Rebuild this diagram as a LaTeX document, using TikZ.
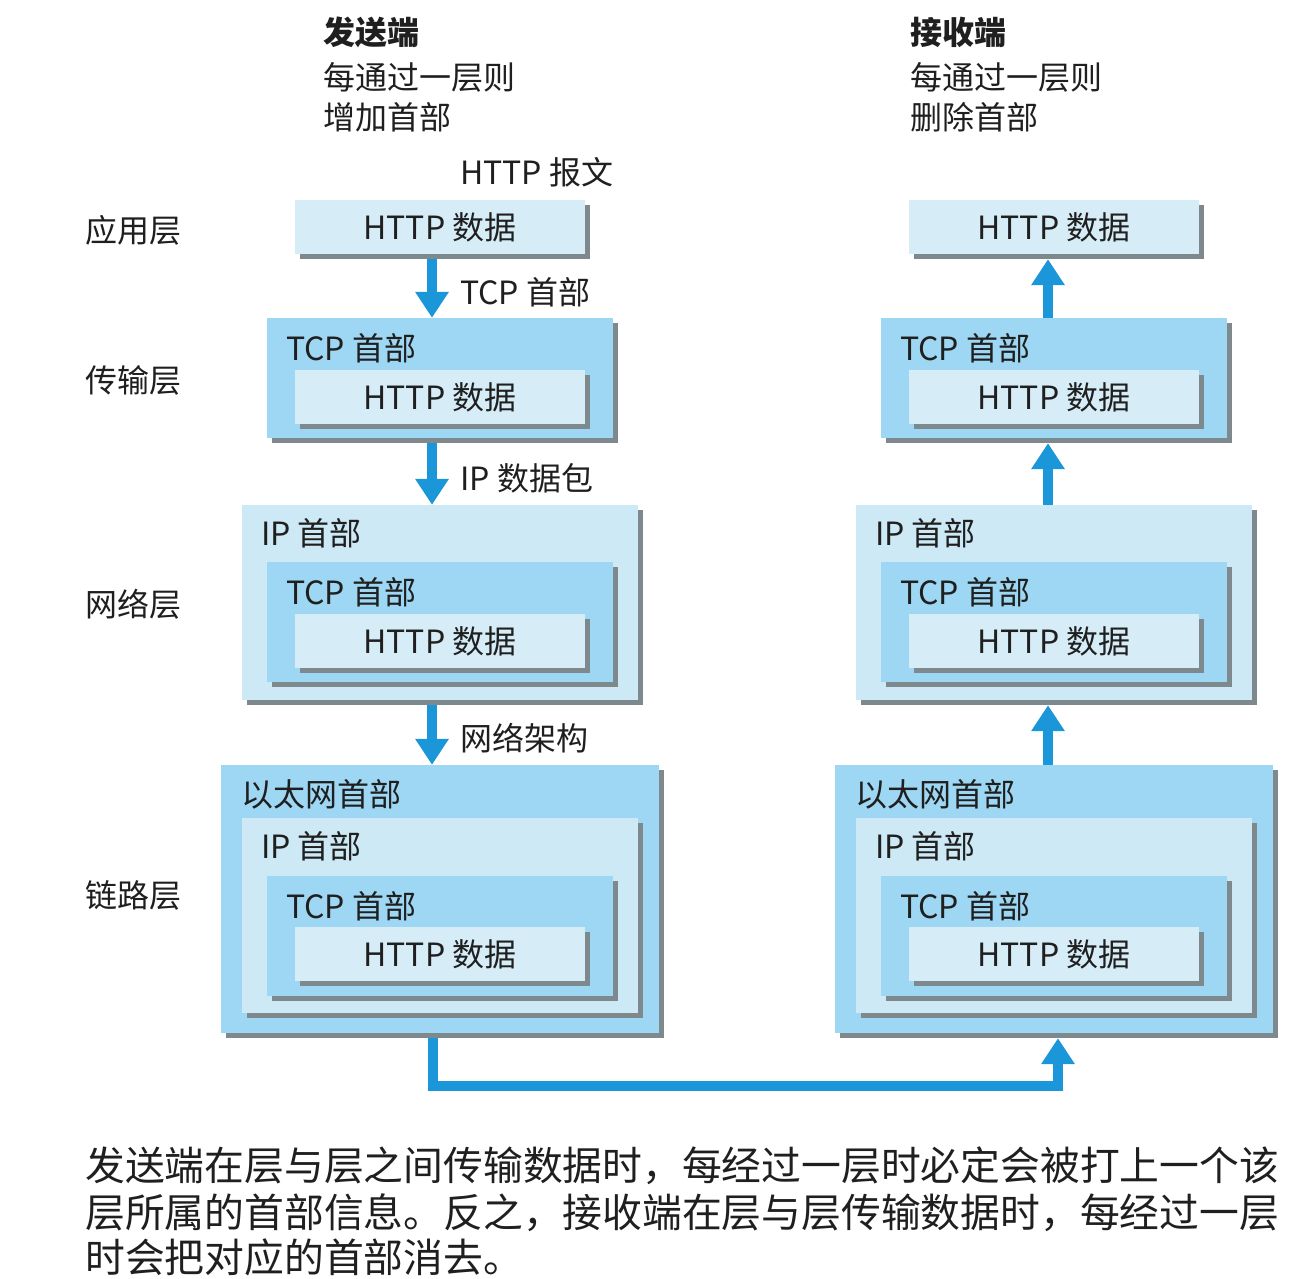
\documentclass[tikz,border=0pt]{standalone}
\usepackage{fontspec}
\setmainfont{Noto Sans CJK SC}
\usepackage{tikz}
\usetikzlibrary{arrows.meta,positioning,calc,shadows}

\definecolor{paleblue}{HTML}{D6EDF8}
\definecolor{ipblue}{HTML}{CDE9F6}
\definecolor{skyblue}{HTML}{9ED7F3}
\definecolor{shadowgray}{HTML}{7E898D}
\definecolor{flowblue}{HTML}{1A96D9}
\definecolor{inkgray}{HTML}{1F1F1F}

\begin{document}
\begin{tikzpicture}[
    x=1pt, y=-1pt,
    font=\fontsize{32pt}{38pt}\selectfont,
    text=inkgray,
    box/.style={
        rectangle,
        fill=#1,
        inner sep=0pt,
        drop shadow={shadow xshift=5pt, shadow yshift=-5pt, fill=shadowgray, opacity=1}
    },
    httpbox/.style={box=paleblue, minimum width=290pt, minimum height=54pt},
    tcpbox/.style={box=skyblue, minimum width=346pt, minimum height=120pt},
    ipbox/.style={box=ipblue, minimum width=396pt, minimum height=195pt},
    ethbox/.style={box=skyblue, minimum width=438pt, minimum height=268pt},
    head/.style={anchor=west, inner sep=0pt},
    note/.style={anchor=west, inner sep=0pt},
    flow/.style={draw=flowblue, line width=10pt, -{Triangle[width=32pt,length=26pt]}}
]

\fill[white] (0,0) rectangle (1315,1279);
\useasboundingbox (0,0) rectangle (1315,1279);

% Headings above both sides
\node[note, font=\fontsize{32pt}{38pt}\selectfont\bfseries] (sendtitle) at (323,32) {发送端};
\node[note] (sendline1) at (323,77) {每通过一层则};
\node[note] (sendline2) at (323,117) {增加首部};
\node[note, font=\fontsize{32pt}{38pt}\selectfont\bfseries] (recvtitle) at (910,32) {接收端};
\node[note] (recvline1) at (910,77) {每通过一层则};
\node[note] (recvline2) at (910,117) {删除首部};

% Layer names on the left
\node[note] (applayer)   at (85,230) {应用层};
\node[note] (translayer) at (85,380) {传输层};
\node[note] (netlayer)   at (85,604) {网络层};
\node[note] (linklayer)  at (85,895) {链路层};

% Sender side: boxes nested from outer to inner
\node[httpbox] (sendapp) at (440,227) {HTTP 数据};

\node[tcpbox]  (sendtcp)     at (440,378) {};
\node[httpbox] (sendtcphttp) at (440,397) {HTTP 数据};

\node[ipbox]   (sendip)     at (440,602.5) {};
\node[tcpbox]  (sendiptcp)  at (440,622) {};
\node[httpbox] (sendiphttp) at (440,641) {HTTP 数据};

\node[ethbox]  (sendeth)     at (440,899) {};
\node[ipbox]   (sendethip)   at (440,915.5) {};
\node[tcpbox]  (sendethtcp)  at (440,936) {};
\node[httpbox] (sendethhttp) at (440,954) {HTTP 数据};

\node[head] (sendtcphead)    at ($(sendtcp.north west)+(19,30)$)    {TCP 首部};
\node[head] (sendiphead)     at ($(sendip.north west)+(19,28)$)     {IP 首部};
\node[head] (sendiptcphead)  at ($(sendiptcp.north west)+(19,30)$)  {TCP 首部};
\node[head] (sendethhead)    at ($(sendeth.north west)+(20,30)$)    {以太网首部};
\node[head] (sendethiphead)  at ($(sendethip.north west)+(19,28)$)  {IP 首部};
\node[head] (sendethtcphead) at ($(sendethtcp.north west)+(19,30)$) {TCP 首部};

% Receiver side: same boxes
\node[httpbox] (recvapp) at (1054,227) {HTTP 数据};

\node[tcpbox]  (recvtcp)     at (1054,378) {};
\node[httpbox] (recvtcphttp) at (1054,397) {HTTP 数据};

\node[ipbox]   (recvip)     at (1054,602.5) {};
\node[tcpbox]  (recviptcp)  at (1054,622) {};
\node[httpbox] (recviphttp) at (1054,641) {HTTP 数据};

\node[ethbox]  (recveth)     at (1054,899) {};
\node[ipbox]   (recvethip)   at (1054,915.5) {};
\node[tcpbox]  (recvethtcp)  at (1054,936) {};
\node[httpbox] (recvethhttp) at (1054,954) {HTTP 数据};

\node[head] (recvtcphead)    at ($(recvtcp.north west)+(19,30)$)    {TCP 首部};
\node[head] (recviphead)     at ($(recvip.north west)+(19,28)$)     {IP 首部};
\node[head] (recviptcphead)  at ($(recviptcp.north west)+(19,30)$)  {TCP 首部};
\node[head] (recvethhead)    at ($(recveth.north west)+(20,30)$)    {以太网首部};
\node[head] (recvethiphead)  at ($(recvethip.north west)+(19,28)$)  {IP 首部};
\node[head] (recvethtcphead) at ($(recvethtcp.north west)+(19,30)$) {TCP 首部};

% Sender arrows (downward) and their labels
\draw[flow] ($(sendapp.south)+(-8,5)$) -- ($(sendtcp.north)+(-8,0)$);
\draw[flow] ($(sendtcp.south)+(-8,5)$) -- ($(sendip.north)+(-8,0)$);
\draw[flow] ($(sendip.south)+(-8,5)$)  -- ($(sendeth.north)+(-8,0)$);

\node[note] (msgnote) at (460,172) {HTTP 报文};
\node[note] (tcpnote) at (460,292) {TCP 首部};
\node[note] (ipnote)  at (460,478) {IP 数据包};
\node[note] (netnote) at (460,738) {网络架构};

% Receiver arrows (upward)
\draw[flow] ($(recvtcp.north)+(-6,0)$) -- ($(recvapp.south)+(-6,5)$);
\draw[flow] ($(recvip.north)+(-6,0)$)  -- ($(recvtcp.south)+(-6,5)$);
\draw[flow] ($(recveth.north)+(-6,0)$) -- ($(recvip.south)+(-6,5)$);

% Link between the two sides
\draw[flow] ($(sendeth.south)+(-7,5)$) -- ++(0,48) -| ($(recveth.south)+(4,5)$);

% Caption
\node[anchor=base west, inner sep=0pt, font=\fontsize{39.8pt}{47pt}\selectfont] (caption1) at (85,1180)
    {发送端在层与层之间传输数据时，每经过一层时必定会被打上一个该};
\node[anchor=base west, inner sep=0pt, font=\fontsize{39.8pt}{47pt}\selectfont] (caption2) at (85,1227)
    {层所属的首部信息。反之，接收端在层与层传输数据时，每经过一层};
\node[anchor=base west, inner sep=0pt, font=\fontsize{39.8pt}{47pt}\selectfont] (caption3) at (85,1272)
    {时会把对应的首部消去。};

\end{tikzpicture}
\end{document}
